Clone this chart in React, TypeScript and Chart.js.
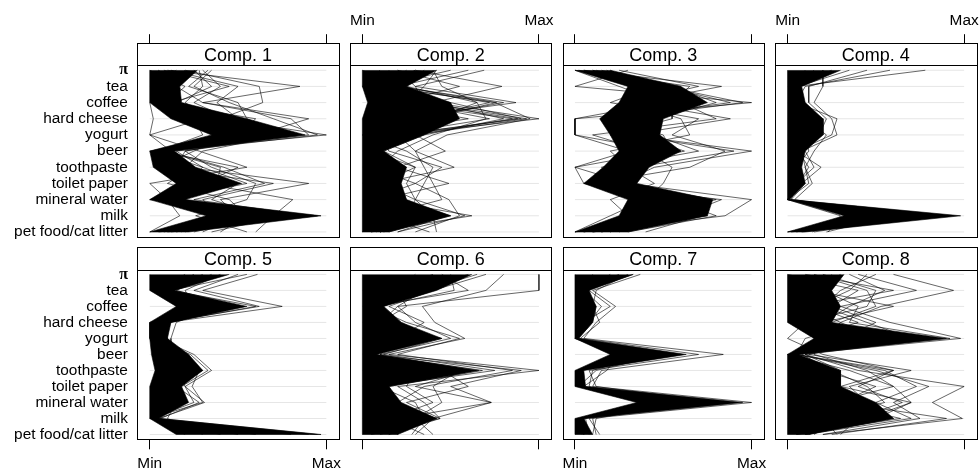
import React, { useEffect, useRef } from 'react';
import { Chart, registerables } from 'chart.js';

Chart.register(...registerables);

const variables = ['π', 'tea', 'coffee', 'hard cheese', 'yogurt', 'beer', 'toothpaste', 'toilet paper', 'mineral water', 'milk', 'pet food/cat litter'];
const stripLabels = ['Comp. 1', 'Comp. 2', 'Comp. 3', 'Comp. 4', 'Comp. 5', 'Comp. 6', 'Comp. 7', 'Comp. 8'];
const rangeLabels = ['Min', 'Max'];

// Dense core of each component (0 = Min, 1 = Max), per variable
const comp1Low = [0, 0, 0, 0.12, 0.35, 0, 0.02, 0.15, 0, 0.32, 0];
const comp1High = [0.27, 0.17, 0.18, 0.55, 0.88, 0.14, 0.26, 0.52, 0.2, 0.97, 0.22];
const comp1Lines = [
  [0.1, 0.85, 0.3, 0.9, 0.6, 0.1, 0.2, 0.9, 0.4, 0.5, 0.3],
  [0.2, 0.62, 0.64, 0.4, 1.0, 0.05, 0.5, 0.3, 0.81, 0.7, 0.6],
  [0.05, 0.1, 0.0, 0.02, 0.0, 0.28, 0.55, 0.0, 0.1, 0.17, 0.0],
  [0.3, 0.4, 0.25, 0.45, 0.7, 0.2, 0.35, 0.6, 0.55, 0.26, 0.55],
  [0.0, 0.2, 0.1, 0.3, 0.0, 0.12, 0.15, 0.35, 0.2, 0.6, 0.15],
  [0.35, 0.25, 0.45, 0.7, 0.95, 0.15, 0.3, 0.55, 0.1, 0.85, 0.05],
  [0.15, 0.05, 0.05, 0.6, 0.5, 0.0, 0.1, 0.45, 0.0, 0.95, 0.1],
  [0.25, 0.35, 0.15, 0.2, 0.45, 0.25, 0.05, 0.7, 0.3, 0.4, 0.2],
  [0.28, 0.3, 0.2, 0.35, 0.62, 0.08, 0.4, 0.38, 0.15, 0.45, 0.08],
  [0.12, 0.5, 0.38, 0.5, 0.8, 0.2, 0.15, 0.25, 0.05, 0.75, 0.35],
  [0.05, 0.15, 0.3, 0.8, 0.9, 0.1, 0.42, 0.65, 0.25, 0.9, 0.12],
  [0.2, 0.1, 0.08, 0.25, 0.3, 0.05, 0.25, 0.1, 0.45, 0.55, 0.4],
  [0.33, 0.22, 0.5, 0.55, 0.75, 0.3, 0.2, 0.5, 0.35, 0.65, 0.25],
  [0.08, 0.45, 0.12, 0.15, 0.55, 0.02, 0.3, 0.2, 0.12, 0.35, 0.18],
];

const comp2Low = [0, 0, 0.03, 0, 0, 0, 0, 0, 0, 0, 0];
const comp2High = [0.42, 0.25, 0.5, 0.55, 0.35, 0.12, 0.25, 0.22, 0.25, 0.5, 0.15];
const comp2Lines = [
  [0.69, 0.3, 0.87, 0.2, 0.1, 0.05, 0.3, 0.1, 0.2, 0.3, 0.1],
  [0.3, 0.79, 0.4, 1.0, 0.2, 0.1, 0.1, 0.2, 0.1, 0.62, 0.05],
  [0.5, 0.1, 0.75, 0.95, 0.48, 0.3, 0.52, 0.1, 0.3, 0.4, 0.42],
  [0.2, 0.55, 0.2, 0.85, 0.3, 0.47, 0.2, 0.49, 0.1, 0.2, 0.0],
  [0.6, 0.2, 0.8, 0.3, 0.1, 0.15, 0.45, 0.3, 0.49, 0.55, 0.3],
  [0.1, 0.0, 0.5, 0.9, 0.2, 0.3, 0.35, 0.4, 0.45, 0.1, 0.38],
  [0.4, 0.45, 0.65, 0.7, 0.4, 0.2, 0.1, 0.05, 0.2, 0.45, 0.1],
  [0.0, 0.2, 0.1, 0.6, 0.0, 0.25, 0.4, 0.35, 0.3, 0.58, 0.2],
  [0.3, 0.2, 0.76, 0.35, 0.2, 0.1, 0.2, 0.15, 0.2, 0.4, 0.1],
  [0.25, 0.15, 0.72, 0.3, 0.3, 0.05, 0.15, 0.2, 0.1, 0.45, 0.12],
  [0.35, 0.25, 0.65, 0.4, 0.25, 0.08, 0.25, 0.1, 0.15, 0.35, 0.05],
  [0.2, 0.3, 0.35, 0.93, 0.3, 0.1, 0.1, 0.2, 0.25, 0.3, 0.1],
  [0.3, 0.1, 0.3, 0.88, 0.2, 0.05, 0.2, 0.15, 0.2, 0.5, 0.15],
  [0.15, 0.2, 0.4, 0.8, 0.35, 0.12, 0.3, 0.25, 0.3, 0.25, 0.08],
  [0.42, 0.35, 0.25, 0.72, 0.15, 0.02, 0.05, 0.3, 0.05, 0.48, 0.2],
];

const comp3Low = [0, 0.3, 0.25, 0.14, 0.2, 0.25, 0.16, 0.05, 0.3, 0.25, 0];
const comp3High = [0.2, 0.6, 0.75, 0.5, 0.48, 0.6, 0.42, 0.35, 0.78, 0.75, 0.3];
const comp3Lines = [
  [0.05, 0.83, 0.35, 0.88, 0.3, 1.0, 0.45, 0.25, 0.5, 0.4, 0.2],
  [0.3, 0.0, 1.0, 0.0, 0.0, 0.5, 0.0, 0.3, 1.0, 0.85, 0.1],
  [0.15, 0.45, 0.2, 0.7, 0.55, 0.85, 0.65, 0.1, 0.6, 0.5, 0.25],
  [0.0, 0.25, 0.5, 0.0, 0.0, 0.3, 0.0, 0.05, 0.83, 0.6, 0.15],
  [0.25, 0.7, 0.3, 0.6, 0.65, 0.2, 0.3, 0.45, 0.2, 0.3, 0.05],
  [0.1, 0.5, 0.88, 0.2, 0.45, 0.7, 0.2, 0.15, 0.7, 0.72, 0.4],
  [0.2, 0.35, 0.6, 0.8, 0.1, 0.4, 0.55, 0.5, 0.4, 0.2, 0.0],
  [0.0, 0.6, 0.45, 0.35, 0.3, 0.9, 0.35, 0.2, 0.55, 0.8, 0.3],
  [0.1, 0.4, 0.7, 0.3, 0.25, 0.6, 0.3, 0.05, 0.75, 0.6, 0.05],
  [0.05, 0.55, 0.8, 0.45, 0.4, 0.45, 0.25, 0.1, 0.5, 0.75, 0.1],
  [0.18, 0.3, 0.4, 0.15, 0.5, 0.55, 0.15, 0.25, 0.8, 0.45, 0.2],
  [0.02, 0.65, 0.55, 0.55, 0.2, 0.35, 0.4, 0.08, 0.35, 0.65, 0.0],
  [0.12, 0.5, 0.95, 0.25, 0.35, 0.62, 0.2, 0.3, 0.6, 0.55, 0.15],
];

const comp4Low = [0, 0, 0, 0, 0, 0, 0, 0, 0, 0.32, 0];
const comp4High = [0.3, 0.08, 0.1, 0.2, 0.2, 0.1, 0.08, 0.1, 0.01, 0.98, 0.1];
const comp4Lines = [
  [0.58, 0.1, 0.05, 0.28, 0.25, 0.05, 0.19, 0.08, 0.0, 0.3, 0.23],
  [0.78, 0.05, 0.02, 0.15, 0.1, 0.12, 0.05, 0.1, 0.02, 0.5, 0.05],
  [0.2, 0.2, 0.15, 0.25, 0.28, 0.08, 0.1, 0.12, 0.0, 0.45, 0.0],
  [0.45, 0.12, 0.12, 0.22, 0.18, 0.1, 0.15, 0.05, 0.0, 0.75, 0.15],
  [0.1, 0.03, 0.08, 0.1, 0.22, 0.15, 0.1, 0.14, 0.04, 0.6, 0.22],
  [0.35, 0.06, 0.04, 0.18, 0.12, 0.06, 0.12, 0.06, 0.02, 0.9, 0.08],
  [0.25, 0.02, 0.05, 0.12, 0.15, 0.03, 0.04, 0.06, 0.0, 0.8, 0.02],
  [0.15, 0.04, 0.06, 0.2, 0.2, 0.08, 0.06, 0.08, 0.01, 0.35, 0.14],
];

const comp5Low = [0, 0, 0.15, 0, 0, 0.01, 0.03, 0, 0, 0, 0.15];
const comp5High = [0.45, 0.14, 0.55, 0.12, 0.1, 0.22, 0.3, 0.18, 0.22, 0.05, 0.97];
const comp5Lines = [
  [0.61, 0.3, 0.75, 0.1, 0.05, 0.25, 0.35, 0.2, 0.31, 0.05, 0.5],
  [0.5, 0.25, 0.62, 0.08, 0.1, 0.2, 0.28, 0.24, 0.3, 0.0, 0.8],
  [0.3, 0.1, 0.38, 0.15, 0.12, 0.12, 0.2, 0.1, 0.15, 0.1, 0.3],
  [0.2, 0.05, 0.45, 0.05, 0.02, 0.23, 0.33, 0.18, 0.1, 0.02, 0.6],
  [0.4, 0.2, 0.25, 0.0, 0.0, 0.05, 0.1, 0.05, 0.05, 0.03, 0.2],
  [0.55, 0.12, 0.6, 0.1, 0.08, 0.15, 0.25, 0.15, 0.28, 0.06, 0.95],
  [0.35, 0.15, 0.5, 0.12, 0.06, 0.18, 0.3, 0.12, 0.2, 0.04, 0.9],
  [0.25, 0.08, 0.3, 0.06, 0.1, 0.1, 0.15, 0.2, 0.25, 0.01, 0.4],
];

const comp6Low = [0, 0, 0, 0, 0, 0, 0, 0, 0, 0, 0];
const comp6High = [0.62, 0.42, 0.12, 0.22, 0.45, 0.08, 0.66, 0.15, 0.22, 0.42, 0.2];
const comp6Lines = [
  [1.0, 1.0, 0.2, 0.3, 0.5, 0.1, 0.6, 0.3, 0.73, 0.4, 0.3],
  [0.8, 0.7, 0.34, 0.41, 0.58, 0.15, 1.0, 0.2, 0.35, 0.44, 0.15],
  [0.5, 0.52, 0.1, 0.2, 0.3, 0.05, 0.9, 0.5, 0.73, 0.2, 0.2],
  [0.3, 0.2, 0.25, 0.1, 0.45, 0.12, 0.75, 0.1, 0.3, 0.35, 0.28],
  [0.7, 0.4, 0.15, 0.35, 0.2, 0.02, 0.55, 0.4, 0.45, 0.3, 0.4],
  [0.45, 0.6, 0.05, 0.25, 0.55, 0.2, 0.85, 0.35, 0.2, 0.42, 0.1],
  [0.6, 0.3, 0.12, 0.22, 0.4, 0.05, 0.68, 0.15, 0.2, 0.3, 0.15],
  [0.4, 0.15, 0.05, 0.15, 0.3, 0.02, 0.45, 0.6, 0.25, 0.44, 0.05],
  [0.65, 0.35, 0.2, 0.1, 0.2, 0.1, 0.3, 0.25, 0.4, 0.15, 0.35],
];

const comp7Low = [0, 0, 0, 0, 0, 0.2, 0, 0, 0.35, 0, 0];
const comp7High = [0.33, 0.08, 0.12, 0.1, 0.02, 0.63, 0.05, 0.06, 0.95, 0.05, 0.1];
const comp7Lines = [
  [0.37, 0.1, 0.23, 0.12, 0.05, 0.84, 0.15, 0.1, 1.0, 0.08, 0.14],
  [0.2, 0.05, 0.15, 0.08, 0.0, 0.25, 0.18, 0.05, 0.4, 0.1, 0.12],
  [0.3, 0.12, 0.1, 0.14, 0.03, 0.7, 0.08, 0.12, 0.8, 0.05, 0.05],
  [0.1, 0.08, 0.2, 0.05, 0.01, 0.5, 0.12, 0.02, 0.6, 0.12, 0.1],
  [0.25, 0.02, 0.06, 0.05, 0.0, 0.6, 0.03, 0.04, 0.9, 0.02, 0.04],
  [0.33, 0.06, 0.12, 0.1, 0.02, 0.4, 0.1, 0.08, 0.5, 0.06, 0.08],
];

const comp8Low = [0, 0, 0, 0, 0.15, 0, 0, 0, 0, 0, 0];
const comp8High = [0.32, 0.25, 0.3, 0.25, 0.9, 0.06, 0.3, 0.3, 0.5, 0.6, 0.12];
const comp8Lines = [
  [0.6, 0.94, 0.53, 0.3, 0.5, 0.1, 0.4, 1.0, 0.82, 0.99, 0.2],
  [0.4, 0.73, 0.3, 0.58, 0.98, 0.05, 0.55, 0.73, 0.5, 0.7, 0.1],
  [0.2, 0.5, 0.45, 0.1, 0.0, 0.2, 0.6, 0.4, 0.65, 0.4, 0.3],
  [0.5, 0.3, 0.2, 0.45, 0.7, 0.0, 0.2, 0.5, 0.3, 0.9, 0.25],
  [0.1, 0.6, 0.1, 0.3, 0.2, 0.15, 0.45, 0.6, 0.7, 0.5, 0.05],
  [0.3, 0.15, 0.6, 0.2, 0.85, 0.1, 0.3, 0.2, 0.4, 0.3, 0.15],
  [0.0, 0.4, 0.25, 0.5, 0.3, 0.05, 0.5, 0.8, 0.6, 0.75, 0.2],
  [0.35, 0.55, 0.35, 0.2, 0.6, 0.12, 0.7, 0.35, 0.45, 0.6, 0.1],
  [0.25, 0.2, 0.4, 0.35, 0.92, 0.0, 0.35, 0.6, 0.25, 0.64, 0.05],
  [0.15, 0.45, 0.5, 0.25, 0.4, 0.08, 0.25, 0.45, 0.55, 0.2, 0.28],
  [0.45, 0.35, 0.15, 0.4, 0.1, 0.05, 0.6, 0.3, 0.7, 0.45, 0.12],
];

const lows = [comp1Low, comp2Low, comp3Low, comp4Low, comp5Low, comp6Low, comp7Low, comp8Low];
const highs = [comp1High, comp2High, comp3High, comp4High, comp5High, comp6High, comp7High, comp8High];
const lineSets = [comp1Lines, comp2Lines, comp3Lines, comp4Lines, comp5Lines, comp6Lines, comp7Lines, comp8Lines];

const FONT = "'Liberation Sans', Arial, Helvetica, sans-serif";
const PANEL_LEFT = [137.4, 350.0, 562.6, 775.2];
const PANEL_WIDTH = 201.3;
const STRIP_TOP = [43.2, 247.4];
const STRIP_H = 22.2;
const PLOT_BOTTOM = [236.8, 439.3];
const CANVAS_TOP = [0, 240];
const CANVAS_HEIGHT = [240, 232];

const panelBorder = {
  id: 'panelBorder',
  afterDraw(chart: any) {
    const { ctx, chartArea } = chart;
    const tb = chart.titleBlock;
    const a = (v: number) => Math.round(v) + 0.5;
    const l = a(chartArea.left), r = a(chartArea.right), t = a(chartArea.top), b = a(chartArea.bottom);
    const st = a(tb ? tb.top : chartArea.top - STRIP_H);
    ctx.save();
    ctx.strokeStyle = '#000';
    ctx.lineWidth = 1;
    ctx.strokeRect(l, st, r - l, b - st);
    ctx.beginPath();
    ctx.moveTo(l, t);
    ctx.lineTo(r, t);
    ctx.stroke();
    ctx.restore();
  },
};

function Panel({ index }: { index: number }) {
  const ref = useRef<HTMLCanvasElement>(null);
  const row = Math.floor(index / 4);
  const col = index % 4;
  const left = PANEL_LEFT[col];
  const right = left + PANEL_WIDTH;
  const cl = col === 0 ? 0 : Math.floor(left) - 3;
  const cr = Math.min(979, Math.ceil(right) + 3);
  const cw = cr - cl;
  const ct = CANVAS_TOP[row];
  const ch = CANVAS_HEIGHT[row];

  useEffect(() => {
    const low = lows[index];
    const high = highs[index];
    const lines = lineSets[index];
    const datasets: any[] = [];
    variables.forEach((_, i) => {
      datasets.push({
        data: [{ x: 0, y: i }, { x: 1, y: i }],
        borderColor: '#e6e6e6',
        borderWidth: 1,
        fill: false,
        order: 3,
      });
    });
    const band = high.map((v, i) => ({ x: v, y: i }));
    for (let i = low.length - 1; i >= 0; i--) band.push({ x: low[i], y: i });
    datasets.push({
      data: band,
      fill: 'shape',
      backgroundColor: '#000',
      borderColor: 'rgba(0,0,0,0.6)',
      borderWidth: 1,
      order: 2,
    });
    lines.forEach((vals) => {
      datasets.push({
        data: vals.map((v, i) => ({ x: v, y: i })),
        borderColor: 'rgba(0,0,0,0.6)',
        borderWidth: 1,
        fill: false,
        order: 1,
      });
    });

    const showX = row === 0 ? col % 2 === 1 : col % 2 === 0;
    const topAxis = row === 0;
    const chart = new Chart(ref.current as HTMLCanvasElement, {
      type: 'line',
      data: { datasets },
      plugins: [panelBorder],
      options: {
        responsive: false,
        animation: false,
        devicePixelRatio: 1,
        events: [],
        elements: { point: { radius: 0 }, line: { tension: 0 } },
        layout: {
          padding: {
            left: col === 0 ? 0 : left - cl,
            right: cr - right,
            top: row === 0 ? 0 : STRIP_TOP[1] - ct,
            bottom: row === 0 ? ch - PLOT_BOTTOM[0] : 0,
          },
        },
        plugins: {
          legend: { display: false },
          tooltip: { enabled: false },
          title: {
            display: true,
            text: stripLabels[index],
            position: 'top',
            fullSize: false,
            weight: 2000,
            color: '#000',
            font: { family: FONT, size: 18, weight: 'normal', lineHeight: 1.0 },
            padding: { top: 3.4, bottom: 0.8 },
          },
        },
        scales: {
          x: {
            type: 'linear',
            min: -0.07,
            max: 1.07,
            position: topAxis ? 'top' : 'bottom',
            weight: 3000,
            afterBuildTicks: (scale: any) => {
              scale.ticks = [{ value: 0 }, { value: 1 }];
            },
            afterFit: (scale: any) => {
              scale.height = topAxis ? STRIP_TOP[0] : ch - (PLOT_BOTTOM[1] - ct);
              scale.paddingLeft = 0;
              scale.paddingRight = 0;
              scale.paddingTop = 0;
              scale.paddingBottom = 0;
            },
            grid: {
              display: true,
              drawOnChartArea: false,
              drawTicks: true,
              tickLength: topAxis ? 9 : 10,
              color: '#000',
              tickColor: '#000',
            },
            border: { display: false },
            ticks: {
              autoSkip: false,
              maxRotation: 0,
              padding: topAxis ? 4.4 : 5.2,
              color: '#000',
              font: { family: FONT, size: 15.4 },
              callback: (v: any) => (showX ? (v === 0 ? rangeLabels[0] : rangeLabels[1]) : ''),
            },
          },
          y: {
            type: 'linear',
            min: -0.3,
            max: 10.3,
            reverse: true,
            display: col === 0,
            position: 'left',
            afterBuildTicks: (scale: any) => {
              scale.ticks = variables.map((_, i) => ({ value: i }));
            },
            afterFit: (scale: any) => {
              scale.width = col === 0 ? PANEL_LEFT[0] : 0;
              scale.paddingLeft = 0;
              scale.paddingRight = 0;
              scale.paddingTop = 0;
              scale.paddingBottom = 0;
            },
            grid: { display: false, drawTicks: false, tickLength: 0 },
            border: { display: false },
            ticks: {
              autoSkip: false,
              padding: 9.5,
              color: '#000',
              font: (ctx: any) =>
                ctx.index === 0
                  ? { family: "'Liberation Serif', 'DejaVu Serif', serif", size: 16, weight: 'bold' }
                  : { family: FONT, size: 15.4 },
              callback: (v: any) => variables[Math.round(v)],
            },
          },
        },
      } as any,
    });
    return () => chart.destroy();
  }, []);

  return (
    <canvas
      ref={ref}
      width={cw}
      height={ch}
      style={{ position: 'absolute', left: cl, top: ct, width: cw, height: ch }}
    />
  );
}

export default function App() {
  return (
    <div style={{ position: 'fixed', left: 0, top: 0, width: 979, height: 472, background: '#fff', overflow: 'hidden' }}>
      {stripLabels.map((_, i) => (
        <Panel key={i} index={i} />
      ))}
    </div>
  );
}
